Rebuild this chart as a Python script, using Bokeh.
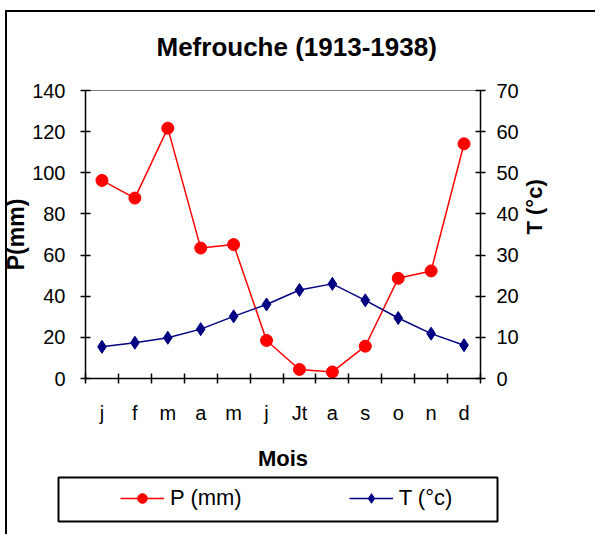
import math
from bokeh.plotting import figure
from bokeh.layouts import column, row
from bokeh.models import (Range1d, LinearAxis, FixedTicker, Legend, LegendItem,
                          ColumnDataSource, Spacer)
from bokeh.embed import file_html
from bokeh.resources import INLINE

# ---- data ----
months = ["j", "f", "m", "a", "m", "j", "Jt", "a", "s", "o", "n", "d"]
precip_mm = [96.3, 87.7, 121.7, 63.4, 65.1, 18.5, 4.4, 3.2, 15.7, 48.7, 52.3, 114.1]
temp_c = [7.7, 8.7, 9.9, 12.0, 15.1, 18.0, 21.5, 23.0, 19.0, 14.7, 10.9, 8.1]
p_ticks = [0, 20, 40, 60, 80, 100, 120, 140]
t_ticks = [0, 10, 20, 30, 40, 50, 60, 70]

FONT = "Liberation Sans"
RED = "#FF0000"
NAVY = "#000080"
n = len(months)
xc = [i + 0.5 for i in range(n)]
src = ColumnDataSource(dict(x=xc, P=precip_mm, T=temp_c))

p = figure(frame_width=395, frame_height=288,
           x_range=Range1d(0, n), y_range=Range1d(0, 140),
           output_backend="svg", toolbar_location=None,
           min_border_left=84, min_border_right=115,
           min_border_top=90, min_border_bottom=97,
           title="Mefrouche (1913-1938)")
p.extra_y_ranges = {"t": Range1d(0, 70)}

p.xgrid.visible = False
p.ygrid.visible = False
p.outline_line_color = "#808080"
p.outline_line_width = 1
p.background_fill_color = "white"
p.border_fill_alpha = 0

# title
p.title.text_font = FONT
p.title.text_font_size = "26px"
p.title.text_font_style = "bold"
p.title.text_color = "black"
p.title.align = "left"
p.title.offset = 71
p.title.standoff = 58

def style_axis(ax, label_size="22px"):
    ax.axis_line_color = "black"
    ax.axis_line_width = 1.5
    ax.major_tick_line_color = "black"
    ax.major_tick_line_width = 1.5
    ax.minor_tick_line_color = "black"
    ax.minor_tick_line_width = 1.5
    ax.major_label_text_font = FONT
    ax.major_label_text_font_size = "20px"
    ax.major_label_text_color = "black"
    ax.axis_label_text_font = FONT
    ax.axis_label_text_font_size = label_size
    ax.axis_label_text_font_style = "bold"
    ax.axis_label_text_color = "black"

# bottom axis: ticks at category boundaries (minor), labels at centers
xax = p.xaxis[0]
style_axis(xax)
xax.ticker = FixedTicker(ticks=xc, minor_ticks=list(range(n + 1)))
xax.major_label_overrides = {xc[i]: months[i] for i in range(n)}
xax.major_tick_in = 0
xax.major_tick_out = 0
xax.minor_tick_in = 5
xax.minor_tick_out = 5
xax.major_label_standoff = 18
xax.axis_label = "Mois"
xax.axis_label_standoff = 19

# left axis
yax = p.yaxis[0]
style_axis(yax, "23px")
yax.ticker = FixedTicker(ticks=p_ticks)
yax.major_tick_in = 5
yax.major_tick_out = 5
yax.minor_tick_in = 0
yax.minor_tick_out = 0
yax.major_label_standoff = 15
yax.axis_label = "P(mm)"
yax.axis_label_standoff = 0

# right axis
rax = LinearAxis(y_range_name="t", ticker=FixedTicker(ticks=t_ticks))
style_axis(rax)
rax.major_tick_in = 5
rax.major_tick_out = 5
rax.minor_tick_in = 0
rax.minor_tick_out = 0
rax.major_label_standoff = 11
rax.axis_label = "T (°c)"
rax.axis_label_standoff = 13
rax.axis_label_orientation = math.pi / 2
p.add_layout(rax, "right")

# series
def draw_series(fig):
    pl = fig.line("x", "P", source=src, line_color=RED, line_width=1.5)
    ps = fig.scatter("x", "P", source=src, marker="circle", size=12,
                     fill_color=RED, line_color=RED)
    tl = fig.line("x", "T", source=src, line_color=NAVY, line_width=1.5,
                  y_range_name="t")
    ts = fig.scatter("x", "T", source=src, marker="diamond", size=13,
                     fill_color=NAVY, line_color=NAVY, y_range_name="t")
    return pl, ps, tl, ts

draw_series(p)

# legend panel: its own small figure whose frame outline is the legend box
lf = figure(frame_width=439, frame_height=44,
            x_range=Range1d(1000, 1001), y_range=Range1d(1000, 1001),
            output_backend="svg", toolbar_location=None,
            x_axis_location=None, y_axis_location=None,
            min_border_left=2, min_border_right=2,
            min_border_top=2, min_border_bottom=2)
lf.extra_y_ranges = {"t": Range1d(1000, 1001)}
lf.xgrid.visible = False
lf.ygrid.visible = False
lf.outline_line_color = "black"
lf.outline_line_width = 2
lf.background_fill_color = "white"
lf.border_fill_alpha = 0
lpl, lps, ltl, lts = draw_series(lf)

legend = Legend(items=[LegendItem(label="P (mm)", renderers=[lpl, lps]),
                       LegendItem(label="T (°c)", renderers=[ltl, lts])],
                orientation="horizontal", location=(62, 10),
                glyph_width=44, glyph_height=24, label_height=24,
                label_standoff=6, spacing=107, padding=0, margin=0,
                border_line_alpha=0, background_fill_alpha=0,
                label_text_font=FONT, label_text_font_size="22px",
                label_text_color="black")
lf.add_layout(legend, "center")

layout = column(p, row(Spacer(width=56, height=48), lf), Spacer(width=10, height=11))
# outer chart border (top and left edges; the others run off the window)
layout.styles = {
    "background-color": "white",
    "background-image": "linear-gradient(#000, #000), linear-gradient(#000, #000)",
    "background-repeat": "no-repeat, no-repeat",
    "background-position": "5px 10px, 5px 10px",
    "background-size": "100% 2px, 2px 100%",
}

open("out.html", "w").write(file_html(layout, INLINE))
